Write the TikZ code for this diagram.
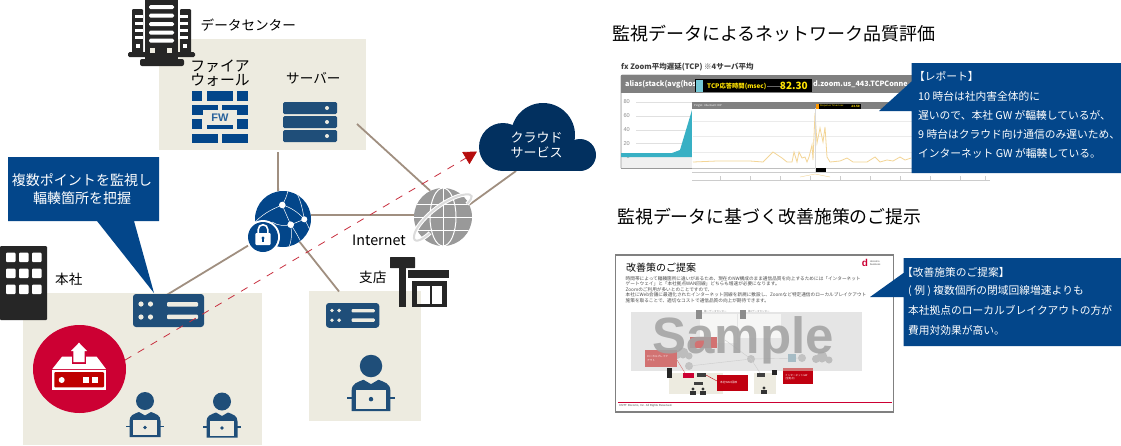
\documentclass[tikz,border=0pt]{standalone}
\usepackage{fontspec}
\setmainfont{Noto Sans CJK JP}
\newfontfamily\latinf{Liberation Sans}
\usetikzlibrary{arrows.meta}
\definecolor{panelc}{HTML}{EDEBE0}
\definecolor{navy}{HTML}{03468A}
\definecolor{steel}{HTML}{1F4E79}
\definecolor{dark}{HTML}{262626}
\definecolor{wire}{HTML}{A08F80}
\definecolor{crim}{HTML}{CC0033}
\definecolor{cloudc}{HTML}{02305F}
\definecolor{dashc}{HTML}{C8303F}
\definecolor{linec}{HTML}{F3D596}
\definecolor{tealc}{HTML}{38B0C4}
\definecolor{minired}{HTML}{C00010}
\definecolor{palered}{HTML}{D27272}
\newcommand{\fs}[1]{\fontsize{#1}{#1}\selectfont}
\tikzset{
  x=1pt,y=-1pt,
  panel/.style={fill=panelc,draw=none,inner sep=0,anchor=north west},
  lab/.style={inner sep=0,anchor=west,text=black,font=\fs{13.6}},
  whitelab/.style={inner sep=0,anchor=west,text=white,font=\fs{10.75}},
  wirel/.style={draw=wire,line width=1.8},
  callout/.style={fill=navy,draw=none},
  tiny/.style={inner sep=0,anchor=west,text=black!70,font=\fs{4.65}},
  minitext/.style={inner sep=0,anchor=west,font=\fs{2.5},text=black!45},
}
% rack server icon: origin = top-left, 71x33
\newcommand{\srvicon}[2]{%
 \begin{scope}[shift={(#1)},scale=#2]
  \fill[steel,rounded corners=3] (0,0) rectangle (71,33);
  \foreach \a/\b in {8/10,17.5/10,8/23,17.5/23} \fill[panelc] (\a,\b) circle (2.6);
  \fill[panelc,rounded corners=1] (34,8) rectangle (65,12.5);
  \fill[panelc,rounded corners=1] (34,20.5) rectangle (65,25);
 \end{scope}}
% user icon: origin = head centre
\newcommand{\usericon}[2]{%
 \begin{scope}[shift={(#1)},scale=#2]
  \fill[steel] (0,0) circle (9);
  \fill[steel] (-15.5,36) -- (-15.5,20) .. controls (-15.5,14) and (-11,13) .. (-6,11)
     -- (0,14.5) -- (6,11) .. controls (11,13) and (15.5,14) .. (15.5,20) -- (15.5,36) -- cycle;
  \fill[panelc] (-12,19) rectangle (12,34);
  \fill[steel] (0,26.5) circle (1.8);
  \fill[steel] (-19,24.8) rectangle (-12,26.2);
  \fill[steel] (12,24.8) rectangle (19,26.2);
 \end{scope}}
\begin{document}
\begin{tikzpicture}
\useasboundingbox (0,0) rectangle (1121,445);
\fill[white] (0,0) rectangle (1121,445);

%% ---------- panels
\node[panel,minimum width=207,minimum height=111] (dcpanel) at (159,39) {};
\node[panel,minimum width=239,minimum height=152] (hqpanel) at (23,293) {};
\node[panel,minimum width=112,minimum height=130] (brpanel) at (309,291) {};

%% ---------- connector end coordinates
\node[circle,minimum size=56,inner sep=0] (netglobe) at (283,219) {};
\node[circle,minimum size=34,inner sep=0] (lockc) at (263,237) {};
\node[circle,minimum size=58,inner sep=0] (inetglobe) at (443,217) {};
\node[circle,minimum size=92,inner sep=0] (redc) at (79.5,369) {};
\coordinate (dcbottom) at (278,152);
\coordinate (dcsrv) at (357,124);
\coordinate (cloudfoot) at (516,171);
\coordinate (hqsrvtop) at (165,296);
\coordinate (brtop) at (339,291.5);
\coordinate (cloudtip) at (477,151.5);

\draw[wirel] (dcbottom) -- (netglobe.100);
\draw[wirel] (dcsrv) -- (inetglobe.116);
\draw[wirel] (netglobe.8) -- (inetglobe.176);
\draw[wirel] (inetglobe.25) -- (cloudfoot);
\draw[wirel] (lockc.210) -- (hqsrvtop);
\draw[wirel] (netglobe.-54) -- (brtop);

%% ---------- data centre building
\begin{scope}
 \fill[dark,rounded corners=1] (132,9) rectangle (143,56);
 \fill[dark,rounded corners=1] (180,9) rectangle (191,56);
 \fill[dark,rounded corners=1.5] (128,52) rectangle (195,57);
 \fill[dark] (145,0) rectangle (178,60);
 \fill[dark,rounded corners=2] (140,59) rectangle (184,66);
 \foreach \y in {5,13.5,22,30.5,38.5} \fill[white,rounded corners=1.5] (149,\y) rectangle (174,\y+4.2);
 \foreach \y in {15,22,29,36} {\fill[white] (135,\y) rectangle (143,\y+2.5);\fill[white] (180,\y) rectangle (188,\y+2.5);}
 \fill[white] (136,44) rectangle (140,48); \fill[white] (183,44) rectangle (187,48);
 \fill[panelc] (150,48) rectangle (155,53); \fill[panelc] (167,48) rectangle (172,53);
\end{scope}
\node[lab] (dclabel) at (200.5,25) {データセンター};

%% ---------- firewall
\node[inner sep=0,align=center,font=\fontsize{14.8}{11.5}\selectfont] (fwlabel) at (220,73.5) {ファイア\\ウォール};
\begin{scope}[navy]
 \foreach \a/\b in {192/202,207/233,237/248} \fill (\a,91) rectangle (\b,100.5);
 \foreach \a/\b in {192/218,222/248} \fill (\a,105) rectangle (\b,114.5);
 \foreach \a/\b in {192/202,237/248} \fill (\a,119) rectangle (\b,129);
 \fill (207,124.5) rectangle (233,129);
 \foreach \a/\b in {192/218,222/248} \fill (\a,133.5) rectangle (\b,143);
 \fill[panelc] (203,110) rectangle (237,124);
\end{scope}
\node[inner sep=0,font=\latinf\bfseries\fs{11},text=navy!85!white] (fwtext) at (220,117.5) {FW};

%% ---------- dc server
\node[lab] (srvlabel) at (286,78) {サーバー};
\foreach \y in {102,116,130} {
  \fill[steel,rounded corners=1.5] (283,\y) rectangle (337,\y+12);
  \fill[panelc] (327,\y+6) circle (2);
}

%% ---------- private network globe
\fill[navy] (netglobe) circle (28);
\coordinate (n1) at (282.3,205); \coordinate (n2) at (304.3,219.3); \coordinate (n3) at (290.7,224.7);
\begin{scope}
 \clip (netglobe) circle (28);
 \draw[white,line width=.5] (n1) .. controls (290,207) and (298,212) .. (n2);
 \draw[white,line width=.5] (n1) .. controls (285,212) and (288,218) .. (n3);
 \draw[white,line width=.5] (n3) -- (n2);
 \draw[white,line width=.5] (n2) .. controls (308,225) and (310,230) .. (312,236);
 \draw[white,line width=.5] (n1) .. controls (275,208) and (265,212) .. (255,222);
 \draw[white,line width=.5] (n1) .. controls (285,200) and (287,196) .. (288,190);
 \draw[white,line width=.5] (n2) .. controls (303,212) and (301,200) .. (296,192);
 \draw[white,line width=.5] (n3) .. controls (285,226) and (278,226) .. (272,222);
 \draw[white,line width=.5] (n3) .. controls (292,234) and (292,240) .. (288,250);
 \draw[white,line width=.5] (n3) .. controls (296,232) and (300,240) .. (304,248);
\end{scope}
\foreach \c/\r in {n1/3.3,n2/3,n3/3.3} \fill[white] (\c) circle (\r);
\fill[white] (lockc) circle (17);
\fill[navy] (lockc) circle (15);
\draw[white,line width=1.6] (258.2,234) -- (258.2,229.5) arc[start angle=180,end angle=0,x radius=4.8,y radius=-4.8] -- (267.8,234);
\fill[white,rounded corners=1] (255.3,233) rectangle (270.7,245);
\fill[navy] (263,238) circle (1.7);
\fill[navy] (262.3,238) rectangle (263.7,242);

%% ---------- internet globe
\fill[black!40] (inetglobe) circle (29);
\begin{scope}
 \clip (inetglobe) circle (29);
 \draw[white,line width=1] (443,188) -- (443,246);
 \draw[white,line width=1] (443,217) ellipse (13 and 29);
 \draw[white,line width=1] (414,217) -- (472,217);
 \draw[white,line width=1] (414,204) -- (472,204);
 \draw[white,line width=1] (414,230) -- (472,230);
\end{scope}
\draw[white,line width=4] (430,233) .. controls (420,242) and (413,243) .. (414,236) .. controls (416,222) and (445,197) .. (465,194.5) .. controls (473,193.5) and (474,197) .. (467,204);
\draw[black!14,line width=2] (430,233) .. controls (420,242) and (413,243) .. (414,236) .. controls (416,222) and (445,197) .. (465,194.5) .. controls (473,193.5) and (474,197) .. (467,204);
\node[lab,font=\fs{14.3}] (inetlabel) at (352,240) {Internet};

%% ---------- cloud
\node[inner sep=0,minimum width=117,minimum height=68,anchor=north west] (cloud) at (479,103) {};
\fill[cloudc] (503,147) circle (24);
\fill[cloudc] (543,135) circle (32);
\fill[cloudc] (580,155) circle (16);
\fill[cloudc] (503,147) rectangle (580,171);
\node[inner sep=0,align=center,text=white,font=\fontsize{13}{14.5}\selectfont] (cloudtext) at (536.5,145) {クラウド\\サービス};

%% ---------- callout left
\fill[callout] (8,157) -- (159,157) -- (159,221) -- (134,221) -- (154,293) -- (97,221) -- (8,221) -- cycle;
\node[inner sep=0,align=center,text=white,font=\fontsize{14}{18.5}\selectfont] (calltext) at (82,189) {複数ポイントを監視し\\輻輳箇所を把握};

%% ---------- HQ
\fill[dark,rounded corners=1] (0,246) rectangle (47,320);
\foreach \x in {6,19,32} \foreach \y in {252.5,268.5,284.5}
  \fill[white,rounded corners=1] (\x,\y) rectangle (\x+9.5,\y+9.5);
\node[lab] (hqlabel) at (55,279) {本社};
\srvicon{133,294}{1}
\fill[crim] (redc) ellipse (46.5 and 44);
\fill[white] (52.3,369) -- (62,356.7) -- (96.7,356.7) -- (106,369) -- cycle;
\fill[crim] (71.7,351) rectangle (86.3,364);
\fill[white] (79,342.7) -- (87,351) -- (84.7,351) -- (84.7,362) -- (73.3,362) -- (73.3,351) -- (71,351) -- cycle;
\fill[white] (52.3,369.5) rectangle (106,389.7);
\fill[red!75!black,rounded corners=1] (54.3,372) rectangle (104,387.3);
\fill[white] (61.7,380) circle (3);
\fill[white] (83.3,377) rectangle (89.3,383);
\fill[white] (92,377) rectangle (98,383);
\usericon{145,401}{1}
\usericon{222,401.5}{1}

%% ---------- branch
\srvicon{326,303}{.75}
\usericon{371,366}{1.25}
\node[lab] (brlabel) at (359,277) {支店};
\begin{scope}[dark]
 \fill[rounded corners=.5] (390,257) rectangle (415,268);
 \fill (399.3,268) rectangle (406,307);
 \fill (408,270) rectangle (449,278);
 \fill (412,281) rectangle (417,307);
 \fill (442,281) rectangle (447,307);
 \fill (412,281) rectangle (447,286);
 \fill (412,304) rectangle (447,307);
 \fill (429.5,286) rectangle (432,304);
\end{scope}

%% ---------- dashed monitoring path
\draw[dashc,line width=.8,dash pattern=on 7.5 off 7.5,-{Triangle[length=13,width=14,color=red!70!black!95!white]}]
   (redc.11) -- (cloudtip);

%% ---------- right: titles
\node[lab,font=\fs{18}] (title1) at (612,34) {監視データによるネットワーク品質評価};
\node[lab,font=\fs{17.9}] (title2) at (617,217) {監視データに基づく改善施策のご提示};

%% ---------- right: dashboard
\node[inner sep=0,anchor=west,font=\bfseries\fs{7.5},text=black!75] (fxlabel) at (621,67) {\textit{fx} Zoom平均遅延(TCP) ※4サーバ平均};
\fill[black!6] (621,93) rectangle (700,168);
\fill[white] (622,93) rectangle (700,157);
\draw[black!40,line width=.7,rounded corners=1] (621,168) -- (621,75) -- (700,75);
\draw[black!40,line width=.7] (621,168) -- (700,168);
\fill[black!50] (621,75) rectangle (912,92.5);
\foreach \lb/\y in {80/102,60/116,40/130,20/143.5,0/157} {
  \node[inner sep=0,anchor=east,font=\latinf\fs{5.6},text=black!45] at (630,\y) {\lb};
}
\foreach \y in {102,116,130,143.5} \draw[black!12,line width=.4] (636,\y) -- (692,\y);
\fill[tealc] (621,153) -- (672,153) -- (680,150) -- (692,110) -- (692,157) -- (621,157) -- cycle;
\node[inner sep=0,anchor=west,font=\bfseries\fs{7.2},text=white] (hdr1) at (625,84) {alias(stack(avg(host};
\node[inner sep=0,anchor=west,font=\bfseries\fs{7.2},text=white] (hdr2) at (813,84) {d.zoom.us\_443.TCPConne};
% overlay chart
\fill[white] (692,102) rectangle (990,181);
\fill[black!50] (692,102) rectangle (900,108.5);
\node[inner sep=0,anchor=west,font=\fs{2.6},text=white] at (694,105.3) {Ping51: Ubuntu20: DIP};
\foreach \y in {121,136,152} \draw[black!8,line width=.3] (693,\y) -- (990,\y);
\draw[linec,line width=.8] (693,162) -- (717,161) -- (750,161) -- (763,162) -- (773,152) -- (782,158) -- (787,162) -- (792,162) -- (794,152) -- (797,162) -- (799,152) -- (802,158) -- (805,157) -- (807,162) -- (809,157) -- (812,145) -- (813,160) -- (815,113) -- (817,143) -- (820,128) -- (823,142) -- (825,127) -- (827,157) -- (830,162) -- (840,161) -- (847,158) -- (853,162) -- (867,162) -- (875,157) -- (880,162) -- (887,160) -- (893,161) -- (900,157) -- (905,160) -- (911,158);
\draw[black!25,line width=.4] (692,168) -- (990,168);
\draw[black!20,line width=.4] (692,172.5) -- (990,172.5);
\draw[black!20,line width=.4] (692,180.5) -- (990,180.5);
\draw[black!15,line width=.4] (815,108) -- (815,172);
\fill[black] (816,168) rectangle (826,171.5);
\foreach \x in {720,750,780,810,840,870,900,930,960,985} \draw[black!20,line width=.3] (\x,176) -- (\x,180);
\draw[linec,line width=.4] (800,177) -- (815,174) -- (830,177);
\fill[black] (816,104) rectangle (861,108.5);
\fill[orange!80!yellow] (816,104) rectangle (818.5,108.5);
\node[inner sep=0,anchor=west,font=\fs{2.4},text=yellow!80!orange] at (820,106.3) {Response Time msec};
\node[inner sep=0,anchor=east,font=\bfseries\fs{3},text=yellow!80!orange] at (860,106.3) {23.50};
% black readout
\fill[black] (695,79) rectangle (812,92);
\fill[tealc!70!white] (696,80) rectangle (703,91.5);
\node[inner sep=0,anchor=west,font=\bfseries\fs{6.3},text=yellow!85!orange] (readl) at (707,86) {TCP応答時間(msec)};
\draw[black!60,line width=.4] (767,86) -- (783,86);
\node[inner sep=0,anchor=east,font=\bfseries\fs{10},text=yellow!85!orange] (readv) at (808,86.2) {82.30};

%% ---------- right: callout 1
\fill[callout] (911.5,63) -- (1121,63) -- (1121,173) -- (911.5,173) -- (911.5,111) -- (879,111) -- (911.5,81.5) -- cycle;
\node[whitelab] (r1) at (914,76) {【レポート】};
\node[whitelab] (r2) at (918,96) {10 時台は社内害全体的に};
\node[whitelab] (r3) at (918,115) {遅いので、本社 GW が輻輳しているが、};
\node[whitelab] (r4) at (918,134) {9 時台はクラウド向け通信のみ遅いため、};
\node[whitelab] (r5) at (918,153) {インターネット GW が輻輳している。};

%% ---------- right: slide thumbnail
\node[draw=black!50,line width=1.8,fill=white,inner sep=0,minimum width=278,minimum height=157,anchor=north west] (slide) at (614.5,254) {};
\node[inner sep=0,anchor=west,font=\fs{10}] (slidetitle) at (626,268) {改善策のご提案};
\node[tiny] at (625.5,278.5) {時間帯によって輻輳箇所に違いがあるため、現在のNW構成のまま通信品質を向上するためには「インターネット};
\node[tiny] at (625.5,284) {ゲートウェイ」と「本社拠点WAN回線」どちらも増速が必要になります。};
\node[tiny] at (625.5,289.5) {Zoomのご利用が多いとのことですので、};
\node[tiny] at (625.5,295) {本社にWeb会議に最適化されたインターネット回線を新規に敷設し、Zoomなど特定通信のローカルブレイクアウト};
\node[tiny] at (625.5,301) {施策を取ることで、適切なコストで通信品質の向上が期待できます。};
% logo
\node[inner sep=0,font=\latinf\bfseries\fs{10},text=crim] (logod) at (865,263) {d};
\node[inner sep=0,anchor=west,align=left,font=\latinf\fontsize{2.6}{3}\selectfont,text=black!70] (logot) at (870,263.5) {docomo\\business};
% mini diagram
\fill[black!10] (631,312) rectangle (862,371);
\fill[panelc!70!black!10] (700,314) rectangle (737,343);
\fill[panelc!70!black!10] (738,314) rectangle (781,338);
\fill[panelc] (669,372.5) rectangle (723,394);
\fill[panelc] (754,372.5) rectangle (776,394);
\foreach \a/\b in {689/366,751/359,802/358} \fill[black!24] (\a,\b) circle (4);
\draw[black!20,line width=.4] (689,366) -- (751,359) -- (802,358);
\draw[black!20,line width=.4] (725,340) -- (751,359) -- (762,376);
\fill[black!26] (677,355) circle (4) (683,353) circle (5.5) (689,356) circle (3.5);
\fill[black!26] (816,359) circle (4) (822,357) circle (5.5) (829,360) circle (3.5);
\fill[blue!30!cyan!35!black!35!white] (788,354) rectangle (796,362);
\fill[black!45] (696,309.5) rectangle (702,319);
\fill[black!45] (740,309.5) rectangle (746,319);
\node[minitext] at (704,312) {第一データセンター};
\node[minitext] at (748,312) {第2データセンター};
\fill[palered] (690,337) rectangle (717,348);
\fill[palered] (645,350) rectangle (677,367);
\draw[palered,line width=.4] (677,360) -- (685,373);
\node[inner sep=0,anchor=west,align=left,font=\fontsize{2.6}{3.2}\selectfont,text=white] (mini1) at (647,358.5) {ローカルブレイク\\アウト};
\fill[minired] (717,375) rectangle (748,391);
\node[inner sep=0,anchor=west,font=\fs{2.7},text=white] (mini2) at (720,382) {本社WAN回線};
\draw[minired,line width=.4] (706,375) -- (717,381);
\fill[palered] (783,368) rectangle (813,372);
\fill[minired] (783,371) rectangle (813,384);
\node[inner sep=0,anchor=west,align=left,font=\fontsize{2.6}{3.2}\selectfont,text=white] (mini3) at (785,377) {インターネットGW\\(全拠点)};
\fill[crim] (683,373) rectangle (694,378);
\fill[black!75] (697,373) rectangle (706,377);
\fill[black!75] (694,382) rectangle (703,385);
\fill[black!75] (757,373) rectangle (765,377);
\fill[black!85] (667,368) rectangle (672,378);
\fill[black!85] (772,370) rectangle (777,375);
\foreach \x/\y in {693/389,703/389,764/388} {
  \fill[black!80] (\x,\y) circle (1.7);
  \fill[black!80] (\x-2.7,\y+2) rectangle (\x+2.7,\y+6);
}
\node[inner sep=0,font=\latinf\bfseries\fs{51},text=black!36,text opacity=.88] (sample) [anchor=base] at (743,353) {Sample};
\draw[crim,line width=.6] (618,402) -- (892,402);
\node[inner sep=0,anchor=west,font=\latinf\fs{2.9},text=black!70] (copyr) at (619,405.5) {©NTT Docomo, Inc. All Rights Reserved.};

%% ---------- right: callout 2
\fill[callout] (903.5,258) -- (1121,258) -- (1121,346) -- (903.5,346) -- (903.5,297) -- (870,297) -- (903.5,273) -- cycle;
\node[whitelab] (p1) at (902,272) {【改善施策のご提案】};
\node[whitelab] (p2) at (908,291) {( 例 ) 複数個所の閉域回線増速よりも};
\node[whitelab] (p3) at (908,310.5) {本社拠点のローカルブレイクアウトの方が};
\node[whitelab] (p4) at (908,330) {費用対効果が高い。};
\end{tikzpicture}
\end{document}
